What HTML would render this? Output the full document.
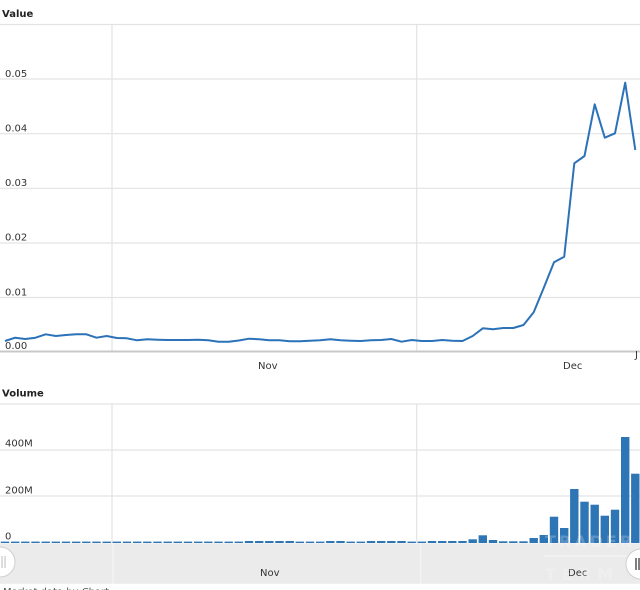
<!DOCTYPE html>
<html><head><meta charset="utf-8"><style>
html,body{margin:0;padding:0;background:#fff;}
svg{display:block;}
text{font-family:"DejaVu Sans","Liberation Sans",sans-serif;}
</style></head><body>
<svg width="640" height="590" viewBox="0 0 640 590" xmlns="http://www.w3.org/2000/svg">
<rect width="640" height="590" fill="#fff"/>
<text x="2" y="17" font-size="10" font-weight="bold" fill="#222">Value</text>
<g stroke="#e3e3e3" stroke-width="1.2">
<line x1="0" y1="24.5" x2="640" y2="24.5"/>
<line x1="0" y1="79" x2="640" y2="79"/>
<line x1="0" y1="133.7" x2="640" y2="133.7"/>
<line x1="0" y1="188.3" x2="640" y2="188.3"/>
<line x1="0" y1="243" x2="640" y2="243"/>
<line x1="0" y1="297.5" x2="640" y2="297.5"/>
<line x1="112" y1="24" x2="112" y2="351"/>
<line x1="416.7" y1="24" x2="416.7" y2="351"/>
</g>
<line x1="0" y1="351.5" x2="640" y2="351.5" stroke="#c8c8c8" stroke-width="2"/>
<g font-size="10" fill="#333">
<text x="5" y="77">0.05</text>
<text x="5" y="131.5">0.04</text>
<text x="5" y="186">0.03</text>
<text x="5" y="240.7">0.02</text>
<text x="5" y="295.3">0.01</text>
<text x="5" y="349">0.00</text>
<text x="258" y="369">Nov</text>
<text x="563" y="369">Dec</text>
<text x="635" y="358">J</text>
</g>
<polyline fill="none" stroke="#2b72b8" stroke-width="2" stroke-linejoin="round" points="5,341 15.2,337.7 25.3,339 35.5,337.7 45.7,334.3 55.8,336 66,335 76.2,334.3 86.3,334.3 96.5,337.7 106.7,336 116.8,338 127,338.3 137.2,340.3 147.3,339.3 157.5,339.7 167.7,340 177.8,340 188,340 198.2,339.7 208.3,340.3 218.5,341.7 228.7,341.7 238.8,340.5 249,338.7 259.2,339.3 269.3,340.3 279.5,340.3 289.7,341.3 299.8,341.3 310,340.7 320.2,340.3 330.3,339.3 340.5,340.3 350.7,340.7 360.8,341 371,340.3 381.2,340 391.3,339 401.5,341.7 411.7,340 421.8,341 432,341 442.2,340 452.3,340.7 462.5,341 472.7,336 482.8,328.3 493,329.3 503.2,328 513.3,328 523.5,325 533.7,312.3 543.8,287.7 554,262.3 564.2,256.7 574.3,163.3 584.5,156 594.7,104.3 604.8,137.7 615,133.3 625.2,82.7 635.3,150"/>
<text x="2" y="396.7" font-size="10" font-weight="bold" fill="#222">Volume</text>
<g stroke="#e3e3e3" stroke-width="1.2">
<line x1="0" y1="404" x2="640" y2="404"/>
<line x1="0" y1="450" x2="640" y2="450"/>
<line x1="0" y1="496" x2="640" y2="496"/>
<line x1="112" y1="404" x2="112" y2="543"/>
<line x1="416.7" y1="404" x2="416.7" y2="543"/>
</g>
<g font-size="10" fill="#333">
<text x="5" y="446.7">400M</text>
<text x="5" y="493.3">200M</text>
<text x="5" y="539.3">0</text>
</g>
<g fill="#2e75b6">
<rect x="0.8" y="541.6" width="8.4" height="1.4"/>
<rect x="11" y="541.6" width="8.4" height="1.4"/>
<rect x="21.1" y="541.6" width="8.4" height="1.4"/>
<rect x="31.3" y="541.6" width="8.4" height="1.4"/>
<rect x="41.5" y="541.6" width="8.4" height="1.4"/>
<rect x="51.6" y="541.6" width="8.4" height="1.4"/>
<rect x="61.8" y="541.6" width="8.4" height="1.4"/>
<rect x="72" y="541.6" width="8.4" height="1.4"/>
<rect x="82.1" y="541.6" width="8.4" height="1.4"/>
<rect x="92.3" y="541.6" width="8.4" height="1.4"/>
<rect x="102.5" y="541.6" width="8.4" height="1.4"/>
<rect x="112.6" y="541.6" width="8.4" height="1.4"/>
<rect x="122.8" y="541.6" width="8.4" height="1.4"/>
<rect x="133" y="541.6" width="8.4" height="1.4"/>
<rect x="143.1" y="541.6" width="8.4" height="1.4"/>
<rect x="153.3" y="541.6" width="8.4" height="1.4"/>
<rect x="163.5" y="541.6" width="8.4" height="1.4"/>
<rect x="173.6" y="541.6" width="8.4" height="1.4"/>
<rect x="183.8" y="541.6" width="8.4" height="1.4"/>
<rect x="194" y="541.6" width="8.4" height="1.4"/>
<rect x="204.1" y="541.6" width="8.4" height="1.4"/>
<rect x="214.3" y="541.6" width="8.4" height="1.4"/>
<rect x="224.5" y="541.6" width="8.4" height="1.4"/>
<rect x="234.6" y="541.6" width="8.4" height="1.4"/>
<rect x="244.8" y="541" width="8.4" height="2"/>
<rect x="255" y="541" width="8.4" height="2"/>
<rect x="265.1" y="541" width="8.4" height="2"/>
<rect x="275.3" y="541" width="8.4" height="2"/>
<rect x="285.5" y="541" width="8.4" height="2"/>
<rect x="295.6" y="541.6" width="8.4" height="1.4"/>
<rect x="305.8" y="541.6" width="8.4" height="1.4"/>
<rect x="316" y="541.6" width="8.4" height="1.4"/>
<rect x="326.1" y="541" width="8.4" height="2"/>
<rect x="336.3" y="541" width="8.4" height="2"/>
<rect x="346.5" y="541.6" width="8.4" height="1.4"/>
<rect x="356.6" y="541.6" width="8.4" height="1.4"/>
<rect x="366.8" y="541" width="8.4" height="2"/>
<rect x="377" y="541" width="8.4" height="2"/>
<rect x="387.1" y="541" width="8.4" height="2"/>
<rect x="397.3" y="541" width="8.4" height="2"/>
<rect x="407.5" y="541.6" width="8.4" height="1.4"/>
<rect x="417.6" y="541.6" width="8.4" height="1.4"/>
<rect x="427.8" y="541" width="8.4" height="2"/>
<rect x="438" y="541" width="8.4" height="2"/>
<rect x="448.1" y="541" width="8.4" height="2"/>
<rect x="458.3" y="541" width="8.4" height="2"/>
<rect x="468.5" y="539.3" width="8.4" height="3.7"/>
<rect x="478.6" y="535.3" width="8.4" height="7.7"/>
<rect x="488.8" y="540" width="8.4" height="3"/>
<rect x="499" y="541.3" width="8.4" height="1.7"/>
<rect x="509.1" y="541.3" width="8.4" height="1.7"/>
<rect x="519.3" y="541.3" width="8.4" height="1.7"/>
<rect x="529.5" y="538" width="8.4" height="5"/>
<rect x="539.6" y="535" width="8.4" height="8"/>
<rect x="549.8" y="516.7" width="8.4" height="26.3"/>
<rect x="560" y="528" width="8.4" height="15"/>
<rect x="570.1" y="489" width="8.4" height="54"/>
<rect x="580.3" y="501.7" width="8.4" height="41.3"/>
<rect x="590.5" y="504.7" width="8.4" height="38.3"/>
<rect x="600.6" y="515.7" width="8.4" height="27.3"/>
<rect x="610.8" y="509.7" width="8.4" height="33.3"/>
<rect x="621" y="437" width="8.4" height="106"/>
<rect x="631.1" y="473.7" width="8.4" height="69.3"/>
</g>
<rect x="0" y="543.3" width="640" height="40.5" fill="#ebebeb"/>
<line x1="113" y1="543" x2="113" y2="584" stroke="#f5f5f5" stroke-width="1.2"/>
<line x1="420.7" y1="543" x2="420.7" y2="584" stroke="#f5f5f5" stroke-width="1.2"/>
<g font-size="10" fill="#333">
<text x="260" y="576">Nov</text>
<text x="568" y="576">Dec</text>
</g>
<g fill="#ffffff" opacity="0.22" font-weight="bold" font-size="16">
<text x="545" y="547" letter-spacing="3">TRADER</text>
<text x="545" y="580" letter-spacing="6">TERM</text>
</g>
<rect x="544" y="555" width="96" height="2" fill="#fff" opacity="0.3"/>
<circle cx="0" cy="562" r="15" fill="#fff" stroke="#cfcfcf" stroke-width="1"/>
<line x1="2" y1="556" x2="2" y2="568" stroke="#bbb" stroke-width="1"/>
<line x1="5" y1="556" x2="5" y2="568" stroke="#bbb" stroke-width="1"/>
<circle cx="641" cy="564" r="15" fill="#fff" stroke="#cfcfcf" stroke-width="1"/>
<line x1="636" y1="558" x2="636" y2="570" stroke="#555" stroke-width="1.5"/>
<line x1="639" y1="558" x2="639" y2="570" stroke="#555" stroke-width="1.5"/>
<text x="3" y="595" font-size="10" fill="#555">Market data by Chart</text>
</svg>
</body></html>
